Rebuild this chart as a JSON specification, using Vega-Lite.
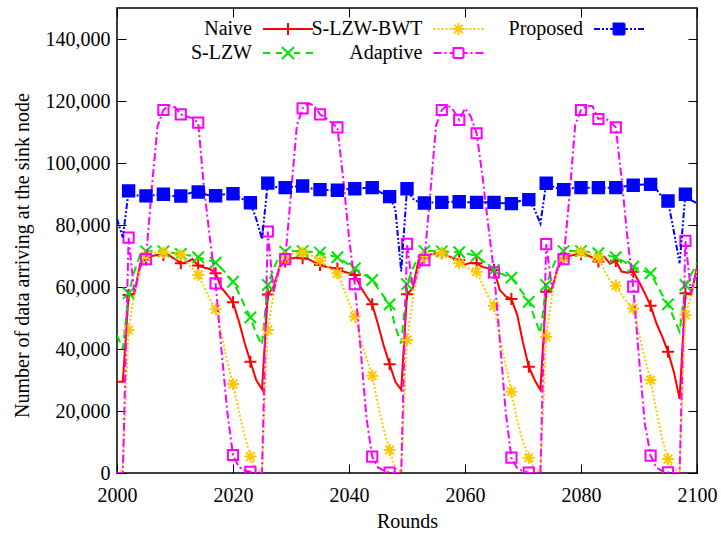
{
  "$schema": "https://vega.github.io/schema/vega-lite/v6.json",
  "width": 580,
  "height": 465,
  "autosize": {"type": "none"},
  "padding": {"left": 117, "top": 8, "right": 24, "bottom": 61},
  "background": "white",
  "config": {
    "view": {"stroke": "black", "strokeWidth": 1.5},
    "axis": {"labelFont": "Liberation Serif", "labelFontSize": 20, "labelColor": "black", "titleFont": "Liberation Serif", "titleFontSize": 20, "titleFontWeight": "normal", "titleColor": "black", "tickColor": "black", "tickWidth": 1, "domain": false, "grid": false, "labelFlush": false, "labelOverlap": false}
  },
  "data": {"values": [
    {"round": 2000, "Naive": 29450, "S-LZW": 44500, "S-LZW-BWT": 0, "Adaptive": 0, "Proposed": 82000},
    {"round": 2001, "Naive": 29450, "S-LZW": 40000, "S-LZW-BWT": 1000, "Adaptive": 0, "Proposed": 76000},
    {"round": 2002, "Naive": 57400, "S-LZW": 58000, "S-LZW-BWT": 46100, "Adaptive": 75900, "Proposed": 91000},
    {"round": 2003, "Naive": 58000, "S-LZW": 65000, "S-LZW-BWT": 58000, "Adaptive": 58000, "Proposed": 89500},
    {"round": 2004, "Naive": 67650, "S-LZW": 70500, "S-LZW-BWT": 66000, "Adaptive": 66500, "Proposed": 89500},
    {"round": 2005, "Naive": 68900, "S-LZW": 71500, "S-LZW-BWT": 70000, "Adaptive": 69000, "Proposed": 89400},
    {"round": 2006, "Naive": 70000, "S-LZW": 71500, "S-LZW-BWT": 71000, "Adaptive": 92000, "Proposed": 89500},
    {"round": 2007, "Naive": 70300, "S-LZW": 71500, "S-LZW-BWT": 71200, "Adaptive": 112000, "Proposed": 89800},
    {"round": 2008, "Naive": 70300, "S-LZW": 71500, "S-LZW-BWT": 71100, "Adaptive": 117100, "Proposed": 89900},
    {"round": 2009, "Naive": 70200, "S-LZW": 71200, "S-LZW-BWT": 71000, "Adaptive": 118600, "Proposed": 89400},
    {"round": 2010, "Naive": 69000, "S-LZW": 70900, "S-LZW-BWT": 70600, "Adaptive": 118000, "Proposed": 89300},
    {"round": 2011, "Naive": 67650, "S-LZW": 70650, "S-LZW-BWT": 70300, "Adaptive": 115700, "Proposed": 89350},
    {"round": 2012, "Naive": 68000, "S-LZW": 70300, "S-LZW-BWT": 68000, "Adaptive": 115000, "Proposed": 90000},
    {"round": 2013, "Naive": 69000, "S-LZW": 70000, "S-LZW-BWT": 66000, "Adaptive": 114500, "Proposed": 90500},
    {"round": 2014, "Naive": 66900, "S-LZW": 69600, "S-LZW-BWT": 63900, "Adaptive": 113000, "Proposed": 90650},
    {"round": 2015, "Naive": 66300, "S-LZW": 69000, "S-LZW-BWT": 60000, "Adaptive": 92000, "Proposed": 90000},
    {"round": 2016, "Naive": 65800, "S-LZW": 68500, "S-LZW-BWT": 56000, "Adaptive": 76000, "Proposed": 89500},
    {"round": 2017, "Naive": 64400, "S-LZW": 67850, "S-LZW-BWT": 52800, "Adaptive": 61200, "Proposed": 89450},
    {"round": 2018, "Naive": 59800, "S-LZW": 66000, "S-LZW-BWT": 45000, "Adaptive": 40000, "Proposed": 89800},
    {"round": 2019, "Naive": 57500, "S-LZW": 64000, "S-LZW-BWT": 36000, "Adaptive": 20000, "Proposed": 90000},
    {"round": 2020, "Naive": 55050, "S-LZW": 61700, "S-LZW-BWT": 28700, "Adaptive": 5800, "Proposed": 90100},
    {"round": 2021, "Naive": 49000, "S-LZW": 58000, "S-LZW-BWT": 20000, "Adaptive": 2000, "Proposed": 89000},
    {"round": 2022, "Naive": 42000, "S-LZW": 54000, "S-LZW-BWT": 12000, "Adaptive": 800, "Proposed": 88000},
    {"round": 2023, "Naive": 35900, "S-LZW": 50200, "S-LZW-BWT": 5300, "Adaptive": 400, "Proposed": 87200},
    {"round": 2024, "Naive": 30000, "S-LZW": 45000, "S-LZW-BWT": 1000, "Adaptive": 0, "Proposed": 82000},
    {"round": 2025, "Naive": 27000, "S-LZW": 41300, "S-LZW-BWT": 400, "Adaptive": 0, "Proposed": 75500},
    {"round": 2026, "Naive": 57600, "S-LZW": 60650, "S-LZW-BWT": 46100, "Adaptive": 77900, "Proposed": 93500},
    {"round": 2027, "Naive": 60000, "S-LZW": 66000, "S-LZW-BWT": 58000, "Adaptive": 58500, "Proposed": 92500},
    {"round": 2028, "Naive": 66500, "S-LZW": 70000, "S-LZW-BWT": 66500, "Adaptive": 66000, "Proposed": 92000},
    {"round": 2029, "Naive": 68200, "S-LZW": 71400, "S-LZW-BWT": 69500, "Adaptive": 69000, "Proposed": 92050},
    {"round": 2030, "Naive": 69200, "S-LZW": 71500, "S-LZW-BWT": 70500, "Adaptive": 90000, "Proposed": 92300},
    {"round": 2031, "Naive": 69500, "S-LZW": 71600, "S-LZW-BWT": 71000, "Adaptive": 112000, "Proposed": 92500},
    {"round": 2032, "Naive": 69250, "S-LZW": 71600, "S-LZW-BWT": 71100, "Adaptive": 117650, "Proposed": 92600},
    {"round": 2033, "Naive": 69000, "S-LZW": 71400, "S-LZW-BWT": 70600, "Adaptive": 119300, "Proposed": 92000},
    {"round": 2034, "Naive": 68000, "S-LZW": 71200, "S-LZW-BWT": 69800, "Adaptive": 118500, "Proposed": 91600},
    {"round": 2035, "Naive": 67100, "S-LZW": 71100, "S-LZW-BWT": 68500, "Adaptive": 115700, "Proposed": 91400},
    {"round": 2036, "Naive": 66500, "S-LZW": 70600, "S-LZW-BWT": 67000, "Adaptive": 114500, "Proposed": 91300},
    {"round": 2037, "Naive": 66200, "S-LZW": 70100, "S-LZW-BWT": 65500, "Adaptive": 113000, "Proposed": 91200},
    {"round": 2038, "Naive": 66000, "S-LZW": 69600, "S-LZW-BWT": 64400, "Adaptive": 111500, "Proposed": 91200},
    {"round": 2039, "Naive": 65000, "S-LZW": 68400, "S-LZW-BWT": 60000, "Adaptive": 95000, "Proposed": 91400},
    {"round": 2040, "Naive": 64500, "S-LZW": 67200, "S-LZW-BWT": 55000, "Adaptive": 76000, "Proposed": 91600},
    {"round": 2041, "Naive": 63900, "S-LZW": 66000, "S-LZW-BWT": 50450, "Adaptive": 60900, "Proposed": 91700},
    {"round": 2042, "Naive": 60000, "S-LZW": 64800, "S-LZW-BWT": 43000, "Adaptive": 40000, "Proposed": 91800},
    {"round": 2043, "Naive": 57000, "S-LZW": 63500, "S-LZW-BWT": 37000, "Adaptive": 18000, "Proposed": 92000},
    {"round": 2044, "Naive": 54400, "S-LZW": 62250, "S-LZW-BWT": 31400, "Adaptive": 5300, "Proposed": 92050},
    {"round": 2045, "Naive": 48000, "S-LZW": 59500, "S-LZW-BWT": 22000, "Adaptive": 1800, "Proposed": 91000},
    {"round": 2046, "Naive": 41000, "S-LZW": 57000, "S-LZW-BWT": 14000, "Adaptive": 800, "Proposed": 90000},
    {"round": 2047, "Naive": 35100, "S-LZW": 54400, "S-LZW-BWT": 7400, "Adaptive": 100, "Proposed": 89150},
    {"round": 2048, "Naive": 29450, "S-LZW": 47000, "S-LZW-BWT": 1500, "Adaptive": 0, "Proposed": 85000},
    {"round": 2049, "Naive": 26800, "S-LZW": 41800, "S-LZW-BWT": 400, "Adaptive": 0, "Proposed": 65000},
    {"round": 2050, "Naive": 57650, "S-LZW": 60900, "S-LZW-BWT": 42900, "Adaptive": 73900, "Proposed": 91700},
    {"round": 2051, "Naive": 59600, "S-LZW": 66000, "S-LZW-BWT": 56000, "Adaptive": 59600, "Proposed": 88500},
    {"round": 2052, "Naive": 68700, "S-LZW": 70000, "S-LZW-BWT": 66000, "Adaptive": 66000, "Proposed": 87300},
    {"round": 2053, "Naive": 69500, "S-LZW": 71600, "S-LZW-BWT": 69800, "Adaptive": 68700, "Proposed": 87100},
    {"round": 2054, "Naive": 70500, "S-LZW": 71600, "S-LZW-BWT": 70500, "Adaptive": 89700, "Proposed": 87200},
    {"round": 2055, "Naive": 70900, "S-LZW": 71500, "S-LZW-BWT": 70800, "Adaptive": 112000, "Proposed": 87300},
    {"round": 2056, "Naive": 70900, "S-LZW": 71500, "S-LZW-BWT": 70900, "Adaptive": 117100, "Proposed": 87300},
    {"round": 2057, "Naive": 70000, "S-LZW": 71400, "S-LZW-BWT": 70000, "Adaptive": 118700, "Proposed": 87400},
    {"round": 2058, "Naive": 69300, "S-LZW": 71300, "S-LZW-BWT": 68800, "Adaptive": 117000, "Proposed": 87500},
    {"round": 2059, "Naive": 68700, "S-LZW": 71200, "S-LZW-BWT": 67650, "Adaptive": 113900, "Proposed": 87500},
    {"round": 2060, "Naive": 67300, "S-LZW": 70800, "S-LZW-BWT": 66500, "Adaptive": 117600, "Proposed": 87400},
    {"round": 2061, "Naive": 67800, "S-LZW": 70500, "S-LZW-BWT": 65700, "Adaptive": 115000, "Proposed": 87300},
    {"round": 2062, "Naive": 67650, "S-LZW": 70100, "S-LZW-BWT": 64950, "Adaptive": 109600, "Proposed": 87300},
    {"round": 2063, "Naive": 66500, "S-LZW": 68500, "S-LZW-BWT": 61000, "Adaptive": 96000, "Proposed": 87300},
    {"round": 2064, "Naive": 66000, "S-LZW": 67000, "S-LZW-BWT": 57000, "Adaptive": 80000, "Proposed": 87300},
    {"round": 2065, "Naive": 65500, "S-LZW": 65500, "S-LZW-BWT": 53950, "Adaptive": 64700, "Proposed": 87300},
    {"round": 2066, "Naive": 59000, "S-LZW": 64500, "S-LZW-BWT": 44000, "Adaptive": 43000, "Proposed": 87100},
    {"round": 2067, "Naive": 57000, "S-LZW": 63700, "S-LZW-BWT": 35000, "Adaptive": 20000, "Proposed": 87000},
    {"round": 2068, "Naive": 56100, "S-LZW": 63000, "S-LZW-BWT": 26250, "Adaptive": 4950, "Proposed": 86900},
    {"round": 2069, "Naive": 51000, "S-LZW": 60500, "S-LZW-BWT": 17000, "Adaptive": 1500, "Proposed": 87500},
    {"round": 2070, "Naive": 42000, "S-LZW": 58000, "S-LZW-BWT": 10000, "Adaptive": 600, "Proposed": 88000},
    {"round": 2071, "Naive": 34300, "S-LZW": 55250, "S-LZW-BWT": 4950, "Adaptive": 100, "Proposed": 88200},
    {"round": 2072, "Naive": 30000, "S-LZW": 50000, "S-LZW-BWT": 1000, "Adaptive": 0, "Proposed": 85000},
    {"round": 2073, "Naive": 26800, "S-LZW": 45050, "S-LZW-BWT": 400, "Adaptive": 0, "Proposed": 80500},
    {"round": 2074, "Naive": 58500, "S-LZW": 60650, "S-LZW-BWT": 43950, "Adaptive": 73800, "Proposed": 93450},
    {"round": 2075, "Naive": 59600, "S-LZW": 66000, "S-LZW-BWT": 57000, "Adaptive": 59600, "Proposed": 92500},
    {"round": 2076, "Naive": 66000, "S-LZW": 70000, "S-LZW-BWT": 66000, "Adaptive": 66500, "Proposed": 91800},
    {"round": 2077, "Naive": 69250, "S-LZW": 71600, "S-LZW-BWT": 69500, "Adaptive": 69000, "Proposed": 91400},
    {"round": 2078, "Naive": 70000, "S-LZW": 71600, "S-LZW-BWT": 70500, "Adaptive": 89000, "Proposed": 91700},
    {"round": 2079, "Naive": 70500, "S-LZW": 71600, "S-LZW-BWT": 71000, "Adaptive": 112300, "Proposed": 92000},
    {"round": 2080, "Naive": 70550, "S-LZW": 71600, "S-LZW-BWT": 71200, "Adaptive": 117100, "Proposed": 92050},
    {"round": 2081, "Naive": 70300, "S-LZW": 71400, "S-LZW-BWT": 70800, "Adaptive": 118500, "Proposed": 92050},
    {"round": 2082, "Naive": 69500, "S-LZW": 71100, "S-LZW-BWT": 70300, "Adaptive": 118300, "Proposed": 92050},
    {"round": 2083, "Naive": 68200, "S-LZW": 70900, "S-LZW-BWT": 69500, "Adaptive": 114200, "Proposed": 92050},
    {"round": 2084, "Naive": 69800, "S-LZW": 70500, "S-LZW-BWT": 65500, "Adaptive": 114500, "Proposed": 92050},
    {"round": 2085, "Naive": 67500, "S-LZW": 70000, "S-LZW-BWT": 62000, "Adaptive": 113500, "Proposed": 92050},
    {"round": 2086, "Naive": 68400, "S-LZW": 69600, "S-LZW-BWT": 60400, "Adaptive": 111500, "Proposed": 92050},
    {"round": 2087, "Naive": 65000, "S-LZW": 68600, "S-LZW-BWT": 57500, "Adaptive": 95000, "Proposed": 92300},
    {"round": 2088, "Naive": 64600, "S-LZW": 67500, "S-LZW-BWT": 55000, "Adaptive": 76000, "Proposed": 92600},
    {"round": 2089, "Naive": 64950, "S-LZW": 66550, "S-LZW-BWT": 53100, "Adaptive": 60100, "Proposed": 92800},
    {"round": 2090, "Naive": 61700, "S-LZW": 65800, "S-LZW-BWT": 45000, "Adaptive": 37000, "Proposed": 93000},
    {"round": 2091, "Naive": 58000, "S-LZW": 65100, "S-LZW-BWT": 37000, "Adaptive": 16000, "Proposed": 93100},
    {"round": 2092, "Naive": 53950, "S-LZW": 64400, "S-LZW-BWT": 30000, "Adaptive": 5600, "Proposed": 93100},
    {"round": 2093, "Naive": 48300, "S-LZW": 61000, "S-LZW-BWT": 20000, "Adaptive": 1800, "Proposed": 91500},
    {"round": 2094, "Naive": 44000, "S-LZW": 57500, "S-LZW-BWT": 11000, "Adaptive": 600, "Proposed": 89000},
    {"round": 2095, "Naive": 39150, "S-LZW": 54400, "S-LZW-BWT": 4500, "Adaptive": 200, "Proposed": 87750},
    {"round": 2096, "Naive": 32700, "S-LZW": 50000, "S-LZW-BWT": 1000, "Adaptive": 0, "Proposed": 78000},
    {"round": 2097, "Naive": 23900, "S-LZW": 45600, "S-LZW-BWT": 600, "Adaptive": 0, "Proposed": 67650},
    {"round": 2098, "Naive": 58000, "S-LZW": 60650, "S-LZW-BWT": 51000, "Adaptive": 74900, "Proposed": 89900},
    {"round": 2099, "Naive": 57500, "S-LZW": 64000, "S-LZW-BWT": 56900, "Adaptive": 58000, "Proposed": 88000},
    {"round": 2100, "Naive": 66500, "S-LZW": 67650, "S-LZW-BWT": 65000, "Adaptive": 66000, "Proposed": 87000}
  ]},
  "transform": [{"fold": ["Naive", "S-LZW", "S-LZW-BWT", "Adaptive", "Proposed"], "as": ["series", "value"]}],
  "layer": [
    {
      "encoding": {
        "x": {"field": "round", "type": "quantitative", "scale": {"domain": [2000, 2100], "nice": false, "zero": false},
          "axis": {"orient": "bottom", "values": [2000, 2020, 2040, 2060, 2080, 2100], "format": "d", "tickSize": -9, "labelPadding": 21, "title": "Rounds", "titleY": 48, "titleBaseline": "middle"}},
        "y": {"field": "value", "type": "quantitative", "scale": {"domain": [0, 150000], "nice": false},
          "axis": {"orient": "left", "values": [0, 20000, 40000, 60000, 80000, 100000, 120000, 140000], "format": ",d", "tickSize": -9, "labelPadding": 16, "title": "Number of data arriving at the sink node", "titleX": -95, "titleY": 247, "titleBaseline": "middle", "titleAngle": -90, "titleAlign": "center"}},
        "stroke": {"field": "series", "type": "nominal",
          "scale": {"domain": ["Naive", "S-LZW-BWT", "Proposed", "S-LZW", "Adaptive"], "range": ["#ff0000", "#ffc800", "#0000ff", "#00e600", "#ff00ff"]},
          "legend": {
            "orient": "none", "legendX": 161, "legendY": 11, "columns": 3, "direction": "horizontal", "title": null,
            "padding": 0, "offset": 0, "labelFont": "Liberation Serif", "labelFontSize": 20, "labelColor": "black",
            "labelAlign": "right", "labelBaseline": "middle", "labelOffset": -46, "labelLimit": 300,
            "symbolSize": 100, "symbolStrokeWidth": 2, "symbolOffset": 0, "columnPadding": -10.5, "rowPadding": 4,
            "encode": {"symbols": {"update": {
              "shape": {"signal": "datum.value === 'Naive' ? 'M-29.6,0L-29.6,0M-5,0L5,0M0,-1.2L0,1.2' : datum.value === 'S-LZW' ? 'M-29.6,0L-29.6,0M-5,0L-3.6,0M-2.4,0L-1.2,0M1.2,0L2.4,0M3.6,0L5,0M-1.2,-1.2L1.2,1.2M-1.2,1.2L1.2,-1.2' : datum.value === 'S-LZW-BWT' ? 'M-29.6,0L-29.6,0M-5,0L-4.6,0M-4.2,0L-3.8,0M-3.4,0L-3,0M-2.6,0L-2.2,0M-1.8,0L-1.4,0M1.4,0L1.8,0M2.2,0L2.6,0M3,0L3.4,0M3.8,0L4.2,0M4.6,0L5,0M-1.2,0L1.2,0M0,-1.2L0,1.2M-0.85,-0.85L0.85,0.85M-0.85,0.85L0.85,-0.85' : datum.value === 'Adaptive' ? 'M-29.6,0L-29.6,0M-5,0L-3.4,0M-2.8,0L-2.4,0M-1.8,0L-1,0M-1,-1L1,-1L1,1L-1,1ZM1,0L1.8,0M2.4,0L2.8,0M3.4,0L5,0' : 'M-27.6,0L-27.6,0M-5,0L-3.8,0M-3.4,0L-3,0M-2.6,0L-2.2,0M-1.8,0L-1.1,0M-1.1,-1.1L1.1,-1.1L1.1,1.1L-1.1,1.1ZM1.1,0L1.8,0M2.2,0L2.6,0M3,0L3.4,0M3.8,0L5,0'"},
              "fill": {"signal": "datum.value === 'Proposed' ? '#0000ff' : 'transparent'"},
              "size": {"value": 100},
              "strokeWidth": {"value": 2},
              "strokeDash": {"value": [1, 0]},
              "opacity": {"value": 1}
            }}}
          }}
      },
      "layer": [
        {"transform": [{"filter": "datum.series === 'Naive'"}], "mark": {"type": "line", "strokeWidth": 2, "clip": true}},
        {"transform": [{"filter": "datum.series === 'Naive' && (datum.round - 2000) % 3 == 2"}], "mark": {"type": "point", "shape": "M-1,0L1,0M0,-1L0,1", "size": 144, "strokeWidth": 2, "opacity": 1, "filled": false, "clip": true}},
        {"transform": [{"filter": "datum.series === 'S-LZW'"}], "mark": {"type": "line", "strokeWidth": 2, "strokeDash": [8, 5], "clip": true}},
        {"transform": [{"filter": "datum.series === 'S-LZW' && (datum.round - 2000) % 3 == 2"}], "mark": {"type": "point", "shape": "M-0.95,-0.95L0.95,0.95M-0.95,0.95L0.95,-0.95", "size": 144, "strokeWidth": 2, "opacity": 1, "filled": false, "clip": true}},
        {"transform": [{"filter": "datum.series === 'S-LZW-BWT'"}], "mark": {"type": "line", "strokeWidth": 2, "strokeDash": [2, 2], "clip": true}},
        {"transform": [{"filter": "datum.series === 'S-LZW-BWT' && (datum.round - 2000) % 3 == 2"}], "mark": {"type": "point", "shape": "M-1,0L1,0M0,-1L0,1M-0.72,-0.72L0.72,0.72M-0.72,0.72L0.72,-0.72", "size": 144, "strokeWidth": 2, "opacity": 1, "filled": false, "clip": true}},
        {"transform": [{"filter": "datum.series === 'Adaptive'"}], "mark": {"type": "line", "strokeWidth": 2, "strokeDash": [8, 3, 2, 3], "clip": true}},
        {"transform": [{"filter": "datum.series === 'Adaptive' && (datum.round - 2000) % 3 == 2"}], "mark": {"type": "point", "shape": "M-0.85,-0.85L0.85,-0.85L0.85,0.85L-0.85,0.85Z", "size": 144, "strokeWidth": 2, "opacity": 1, "filled": false, "clip": true}},
        {"transform": [{"filter": "datum.series === 'Proposed'"}], "mark": {"type": "line", "strokeWidth": 2, "strokeDash": [6, 2, 2, 2, 2, 2], "clip": true}},
        {"transform": [{"filter": "datum.series === 'Proposed' && (datum.round - 2000) % 3 == 2"}], "mark": {"type": "point", "shape": "M-0.95,-0.95L0.95,-0.95L0.95,0.95L-0.95,0.95Z", "size": 144, "strokeWidth": 2, "opacity": 1, "filled": false, "fill": "#0000ff", "clip": true}}
      ]
    },
    {
      "mark": {"type": "point", "opacity": 0},
      "encoding": {
        "x": {"field": "round", "type": "quantitative",
          "axis": {"orient": "top", "values": [2000, 2020, 2040, 2060, 2080, 2100], "labels": false, "title": null, "tickSize": -9}},
        "y": {"field": "value", "type": "quantitative",
          "axis": {"orient": "right", "values": [0, 20000, 40000, 60000, 80000, 100000, 120000, 140000], "labels": false, "title": null, "tickSize": -9}}
      }
    }
  ],
  "resolve": {"axis": {"x": "independent", "y": "independent"}}
}
